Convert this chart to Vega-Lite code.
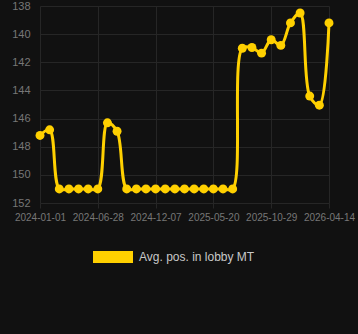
{
  "$schema": "https://vega.github.io/schema/vega-lite/v6.json",
  "autosize": {"type": "none"},
  "width": 318,
  "height": 197,
  "padding": {"left": 40, "top": 6, "right": 0, "bottom": 131},
  "background": "#111111",
  "config": {
    "view": {"stroke": null},
    "font": "Liberation Sans"
  },
  "data": {
    "values": [
      {"date": "2024-01-01", "pos": 147.2, "series": "Avg. pos. in lobby MT"},
      {"date": "2024-01-31", "pos": 146.8, "series": "Avg. pos. in lobby MT"},
      {"date": "2024-03-01", "pos": 151.0, "series": "Avg. pos. in lobby MT"},
      {"date": "2024-03-31", "pos": 151.0, "series": "Avg. pos. in lobby MT"},
      {"date": "2024-04-30", "pos": 151.0, "series": "Avg. pos. in lobby MT"},
      {"date": "2024-05-30", "pos": 151.0, "series": "Avg. pos. in lobby MT"},
      {"date": "2024-06-28", "pos": 151.0, "series": "Avg. pos. in lobby MT"},
      {"date": "2024-07-25", "pos": 146.3, "series": "Avg. pos. in lobby MT"},
      {"date": "2024-08-21", "pos": 146.9, "series": "Avg. pos. in lobby MT"},
      {"date": "2024-09-17", "pos": 151.0, "series": "Avg. pos. in lobby MT"},
      {"date": "2024-10-14", "pos": 151.0, "series": "Avg. pos. in lobby MT"},
      {"date": "2024-11-10", "pos": 151.0, "series": "Avg. pos. in lobby MT"},
      {"date": "2024-12-07", "pos": 151.0, "series": "Avg. pos. in lobby MT"},
      {"date": "2025-01-03", "pos": 151.0, "series": "Avg. pos. in lobby MT"},
      {"date": "2025-01-30", "pos": 151.0, "series": "Avg. pos. in lobby MT"},
      {"date": "2025-02-26", "pos": 151.0, "series": "Avg. pos. in lobby MT"},
      {"date": "2025-03-25", "pos": 151.0, "series": "Avg. pos. in lobby MT"},
      {"date": "2025-04-22", "pos": 151.0, "series": "Avg. pos. in lobby MT"},
      {"date": "2025-05-20", "pos": 151.0, "series": "Avg. pos. in lobby MT"},
      {"date": "2025-06-16", "pos": 151.0, "series": "Avg. pos. in lobby MT"},
      {"date": "2025-07-13", "pos": 151.0, "series": "Avg. pos. in lobby MT"},
      {"date": "2025-08-09", "pos": 141.0, "series": "Avg. pos. in lobby MT"},
      {"date": "2025-09-05", "pos": 140.95, "series": "Avg. pos. in lobby MT"},
      {"date": "2025-10-02", "pos": 141.35, "series": "Avg. pos. in lobby MT"},
      {"date": "2025-10-29", "pos": 140.4, "series": "Avg. pos. in lobby MT"},
      {"date": "2025-11-25", "pos": 140.8, "series": "Avg. pos. in lobby MT"},
      {"date": "2025-12-22", "pos": 139.2, "series": "Avg. pos. in lobby MT"},
      {"date": "2026-01-19", "pos": 138.5, "series": "Avg. pos. in lobby MT"},
      {"date": "2026-02-15", "pos": 144.4, "series": "Avg. pos. in lobby MT"},
      {"date": "2026-03-15", "pos": 145.05, "series": "Avg. pos. in lobby MT"},
      {"date": "2026-04-14", "pos": 139.2, "series": "Avg. pos. in lobby MT"}
    ]
  },
  "encoding": {
    "x": {
      "field": "date",
      "type": "ordinal",
      "sort": null,
      "scale": {"type": "point", "padding": 0, "range": [0, 289]},
      "axis": {
        "title": null,
        "values": ["2024-01-01", "2024-06-28", "2024-12-07", "2025-05-20", "2025-10-29", "2026-04-14"],
        "labelAngle": 0,
        "labelColor": "#777777",
        "labelFontSize": 10,
        "labelPadding": 4,
        "grid": true,
        "gridColor": "#262626",
        "domain": false,
        "tickColor": "#262626",
        "tickSize": 5
      }
    },
    "y": {
      "field": "pos",
      "type": "quantitative",
      "scale": {"domain": [138, 152], "reverse": true, "nice": false, "zero": false},
      "axis": {
        "title": null,
        "values": [138, 140, 142, 144, 146, 148, 150, 152],
        "labelColor": "#777777",
        "labelFontSize": 11,
        "labelPadding": 10,
        "grid": true,
        "gridColor": "#262626",
        "domain": false,
        "ticks": false
      }
    },
    "color": {
      "field": "series",
      "type": "nominal",
      "scale": {"range": ["#FFD000"]},
      "legend": {
        "title": null,
        "orient": "none",
        "legendX": 53,
        "legendY": 231,
        "symbolType": "M-1,-0.3h2v0.6h-2z",
        "symbolSize": 1600,
        "symbolStrokeWidth": 0,
        "symbolOpacity": 1,
        "labelColor": "#c8c8c8",
        "labelFontSize": 12,
        "labelOffset": 6
      }
    }
  },
  "layer": [
    {
      "mark": {"type": "line", "interpolate": "catmull-rom", "strokeWidth": 3}
    },
    {
      "mark": {"type": "circle", "size": 80, "opacity": 1}
    }
  ]
}
